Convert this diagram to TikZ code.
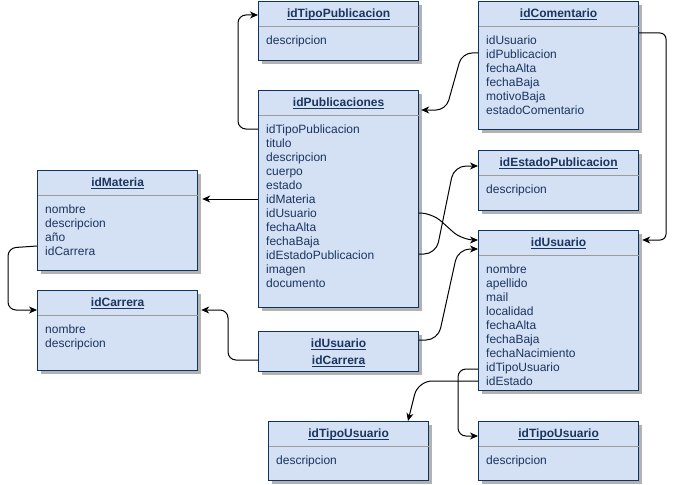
\documentclass[tikz,border=0pt]{standalone}
\usepackage{fontspec}
\setmainfont{Liberation Sans}
\usetikzlibrary{calc,arrows.meta,shadows}
\definecolor{boxfill}{HTML}{D4E1F5}
\definecolor{boxline}{HTML}{0F3462}
\definecolor{txt}{HTML}{1A3560}
\definecolor{sepc}{HTML}{9C9C9C}
\tikzset{
  cls/.style={draw=boxline, fill=boxfill, line width=1.2pt, inner sep=0pt,
    drop shadow={shadow xshift=3pt, shadow yshift=-3pt, fill=black!30, opacity=1}},
  sepline/.style={draw=sepc, line width=0.9pt},
  hdr/.style={inner sep=0pt, text=txt, font=\fontsize{12pt}{14pt}\selectfont\bfseries},
  hdrline/.style={draw=txt, line width=0.8pt},
  attr/.style={inner sep=0pt, text=txt, font=\fontsize{12pt}{14pt}\selectfont},
  conn/.style={draw=black, line width=1pt, -{Stealth[length=8pt,width=7pt,inset=2.5pt]}},
}
\newcommand\umlclass[7]{%
  \node[cls, minimum width=#4pt, minimum height=#5pt, anchor=north west] (#1) at (#2,#3) {};
  \draw[sepline] ($(#1.north west)+(0.6,25)$) -- ($(#1.north east)+(-0.6,25)$);
  \node[hdr, anchor=base] (#1-t) at ($(#1.north)+(0,16.5)$) {#6};
  \draw[hdrline] ($(#1-t.base west)+(0,2)$) -- ($(#1-t.base east)+(0,2)$);
  \foreach \a [count=\i from 0] in {#7}
    \node[attr, anchor=base west] (#1-\i) at ($(#1.north west)+(8,43.5+14*\i)$) {\a};
}
\begin{document}
\begin{tikzpicture}[x=1pt,y=-1pt]
\useasboundingbox (0,0) rectangle (676,484);

\umlclass{tpub}{258}{1}{160}{59}{idTipoPublicacion}{descripcion}
\umlclass{com}{478}{1}{160}{128}{idComentario}{idUsuario,idPublicacion,fechaAlta,fechaBaja,motivoBaja,estadoComentario}
\umlclass{pub}{258}{90}{160}{217}{idPublicaciones}{idTipoPublicacion,titulo,descripcion,cuerpo,estado,idMateria,idUsuario,fechaAlta,fechaBaja,idEstadoPublicacion,imagen,documento}
\umlclass{est}{478}{150}{160}{60}{idEstadoPublicacion}{descripcion}
\umlclass{usr}{478}{230}{160}{160}{idUsuario}{nombre,apellido,mail,localidad,fechaAlta,fechaBaja,fechaNacimiento,idTipoUsuario,idEstado}
\umlclass{mat}{37}{170}{160}{100}{idMateria}{nombre,descripcion,año,idCarrera}
\umlclass{car}{37}{290}{160}{80}{idCarrera}{nombre,descripcion}
\umlclass{tuA}{268}{421}{160}{59}{idTipoUsuario}{descripcion}
\umlclass{tuB}{478}{421}{160}{59}{idTipoUsuario}{descripcion}

% link box
\node[cls, minimum width=160pt, minimum height=40pt, anchor=north west] (lnk) at (258,331) {};
\node[hdr, anchor=base] (lnk-a) at ($(lnk.north)+(0,16)$) {idUsuario};
\node[hdr, anchor=base] (lnk-b) at ($(lnk.north)+(0,33.5)$) {idCarrera};
\draw[hdrline] ($(lnk-a.base west)+(0,2)$) -- ($(lnk-a.base east)+(0,2)$);
\draw[hdrline] ($(lnk-b.base west)+(0,2)$) -- ($(lnk-b.base east)+(0,2)$);

% connectors
\draw[conn, rounded corners=8pt] (pub.west |- 0,129) -- (238,129) -- (238,15) -- (tpub.west |- 0,15);
\draw[conn, rounded corners=10pt] (com.west |- 0,53) -- (462,53) -- (446,110) -- ($(pub.east |- 0,110)+(2,0)$);
\draw[conn, rounded corners=6pt] (com.east |- 0,33) -- (666,33) -- (666,240) -- ($(usr.east |- 0,240)+(3,0)$);
\draw[conn] (pub.west |- 0,199) -- ($(mat.east |- 0,199)+(4,0)$);
\draw[conn, rounded corners=12pt] (pub.east |- 0,213) -- (432,213) -- (462,240) -- (usr.west |- 0,240);
\draw[conn, rounded corners=12pt] (pub.east |- 0,254) -- (436,254) -- (454,166) -- (est.west |- 0,166);
\draw[conn, rounded corners=12pt] (lnk.east |- 0,340) -- (438,340) -- (458,249) -- (usr.west |- 0,249);
\draw[conn, rounded corners=8pt] (lnk.west |- 0,360) -- (228,360) -- (228,310) -- ($(car.east |- 0,310)+(3,0)$);
\draw[conn, rounded corners=8pt] (mat.west |- 0,246) -- (8,248) -- (8,310) -- (car.west |- 0,310);
\draw[conn, rounded corners=8pt] (usr.west |- 0,369) -- (458,369) -- (458,436) -- (tuB.west |- 0,436);
\draw[conn, rounded corners=14pt] (usr.west |- 0,381) -- (418,381) -- (tuA.north -| 408,0);
\end{tikzpicture}
\end{document}
